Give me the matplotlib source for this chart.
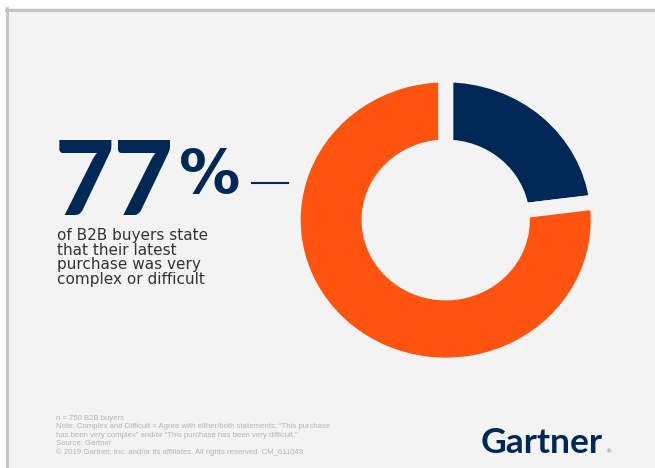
import matplotlib
matplotlib.use("Agg")
import matplotlib.pyplot as plt
from matplotlib.patches import Rectangle
from matplotlib.lines import Line2D

# ---- data ----
categories = ["Not very complex or difficult", "Very complex or difficult"]
values = [23, 77]
colors = ["#002856", "#fe5410"]
headline_value = values[1]
body_lines = ["of B2B buyers state", "that their latest", "purchase was very", "complex or difficult"]
footnotes = [
    "n = 750 B2B buyers",
    "Note: Complex and Difficult = Agree with either/both statements: \u201cThis purchase",
    "has been very complex\u201d and/or \u201cThis purchase has been very difficult.\u201d",
    "Source: Gartner",
    "\u00a9 2019 Gartner, Inc. and/or its affiliates. All rights reserved. CM_611049",
]
brand = "Gartner"

W, H = 655, 468
BG = "#f3f3f3"
fig = plt.figure(figsize=(W / 100, H / 100), dpi=100)
fig.patch.set_facecolor("white")

def fx(px):
    return px / W

def fy(py_top):
    return 1 - py_top / H

# panel background + top/left border
fig.patches.append(Rectangle((fx(6), 0), 1 - fx(6), fy(8), transform=fig.transFigure,
                             facecolor=BG, edgecolor="none", zorder=-10))
fig.lines.append(Line2D([fx(6), 1], [fy(9.5), fy(9.5)], transform=fig.transFigure,
                        color="#c4c4c4", lw=2.2, zorder=-5))
fig.lines.append(Line2D([fx(7), fx(7)], [0, fy(8)], transform=fig.transFigure,
                        color="#c4c4c4", lw=2.0, zorder=-5))

# ---- donut ----
cx, cy = 445.7, 220.0
rx, ry = 145.0, 138.0
aw, ah = 2.5 * rx, 2.5 * ry
ax = fig.add_axes([fx(cx - aw / 2), fy(cy + ah / 2), aw / W, ah / H], zorder=2)
ax.set_facecolor("none")
gap_px = 15
lw_pt = gap_px * 72 / 100
r = 1 + (gap_px / 2) / rx
ax.pie(values, colors=colors, startangle=90, counterclock=False, radius=r,
       wedgeprops=dict(width=r - 0.58 + (gap_px / 2) / rx, edgecolor=BG,
                       linewidth=lw_pt, joinstyle="miter"))
ax.set_aspect("auto")
ax.set_xlim(-1.25, 1.25)
ax.set_ylim(-1.25, 1.25)
ax.axis("off")

# ---- headline ----
navy = colors[0]
fig.text(fx(55), fy(215), f"{headline_value}", fontsize=74, fontweight="black",
         family="Lato", color=navy, ha="left", va="baseline")
fig.text(fx(179), fy(193), "%", fontsize=44, fontweight="bold",
         family="DejaVu Sans", color=navy, ha="left", va="baseline")
fig.lines.append(Line2D([fx(252), fx(288)], [fy(183), fy(183)], transform=fig.transFigure,
                        color=navy, lw=1.5))

for i, line in enumerate(body_lines):
    fig.text(fx(57), fy(240 + i * 14.6), line, fontsize=11, family="DejaVu Sans",
             color="#333333", ha="left", va="baseline")

for i, line in enumerate(footnotes):
    fig.text(fx(56), fy(420 + i * 8.4), line, fontsize=5.6, family="Liberation Sans",
             color="#b5b5b5", ha="left", va="baseline")

fig.text(fx(481), fy(453), brand, fontsize=25.5, fontweight="bold", family="Lato",
         color=navy, ha="left", va="baseline")
fig.text(fx(605.5), fy(453), "\u00ae", fontsize=4.5, family="DejaVu Sans",
         color="#6b7fa0", ha="left", va="baseline")

fig.savefig("out.png", dpi=100, facecolor=fig.get_facecolor())
